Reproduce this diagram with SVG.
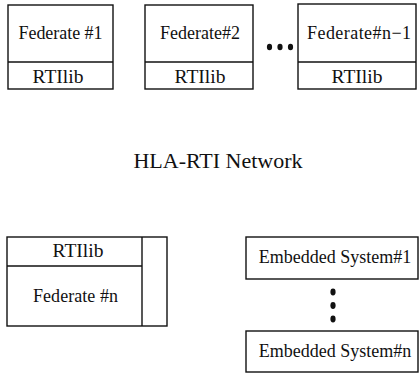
<svg xmlns="http://www.w3.org/2000/svg" width="419" height="374" viewBox="0 0 419 374">
  <style>
    .box { fill: #fff; stroke: #111; stroke-width: 1.4; }
    .ln { stroke: #111; stroke-width: 1.4; fill: none; }
    .t { font-family: "Liberation Serif", "Times New Roman", serif; font-size: 18px; fill: #111; text-anchor: middle; }
    .lib { font-size: 19.5px; }
    .big { font-size: 22px; }
    .dot { fill: #111; }
  </style>
  <rect width="419" height="374" fill="#fff"/>

  <g id="federate1">
    <rect class="box" x="8" y="5" width="105" height="84"/>
    <line class="ln" x1="8" y1="62" x2="113" y2="62"/>
    <text class="t" x="60.5" y="39" textLength="84" lengthAdjust="spacing">Federate #1</text>
    <text class="t lib" x="58" y="83">RTIlib</text>
  </g>

  <g id="federate2">
    <rect class="box" x="145" y="5" width="108" height="84"/>
    <line class="ln" x1="145" y1="62" x2="253" y2="62"/>
    <text class="t" x="200" y="39">Federate#2</text>
    <text class="t lib" x="200" y="83">RTIlib</text>
  </g>

  <g id="ellipsis-top">
    <ellipse class="dot" cx="269.5" cy="47" rx="2.6" ry="3.2"/>
    <ellipse class="dot" cx="280" cy="47" rx="2.6" ry="3.2"/>
    <ellipse class="dot" cx="290.5" cy="47" rx="2.6" ry="3.2"/>
  </g>

  <g id="federate-n-1">
    <rect class="box" x="298" y="4" width="118" height="85"/>
    <line class="ln" x1="298" y1="62" x2="416" y2="62"/>
    <text class="t" x="359" y="39" textLength="104" lengthAdjust="spacing">Federate#n−1</text>
    <text class="t lib" x="357" y="83">RTIlib</text>
  </g>

  <g id="network">
    <text class="t big" x="218" y="168">HLA-RTI Network</text>
  </g>

  <g id="federate-n">
    <rect class="box" x="7" y="237" width="160" height="89"/>
    <line class="ln" x1="142" y1="237" x2="142" y2="326"/>
    <line class="ln" x1="7" y1="266" x2="142" y2="266"/>
    <text class="t lib" x="78" y="257">RTIlib</text>
    <text class="t" x="75.5" y="302" textLength="85" lengthAdjust="spacing">Federate #n</text>
  </g>

  <g id="embedded1">
    <rect class="box" x="246" y="237" width="172" height="42"/>
    <text class="t" x="335" y="263">Embedded System#1</text>
  </g>

  <g id="ellipsis-right">
    <ellipse class="dot" cx="333" cy="292" rx="2.6" ry="3.4"/>
    <ellipse class="dot" cx="333" cy="305.5" rx="2.6" ry="3.4"/>
    <ellipse class="dot" cx="333" cy="319" rx="2.6" ry="3.4"/>
  </g>

  <g id="embeddedn">
    <rect class="box" x="246" y="331" width="172" height="41"/>
    <text class="t" x="335" y="357">Embedded System#n</text>
  </g>

  <g id="connectors"></g>
</svg>
